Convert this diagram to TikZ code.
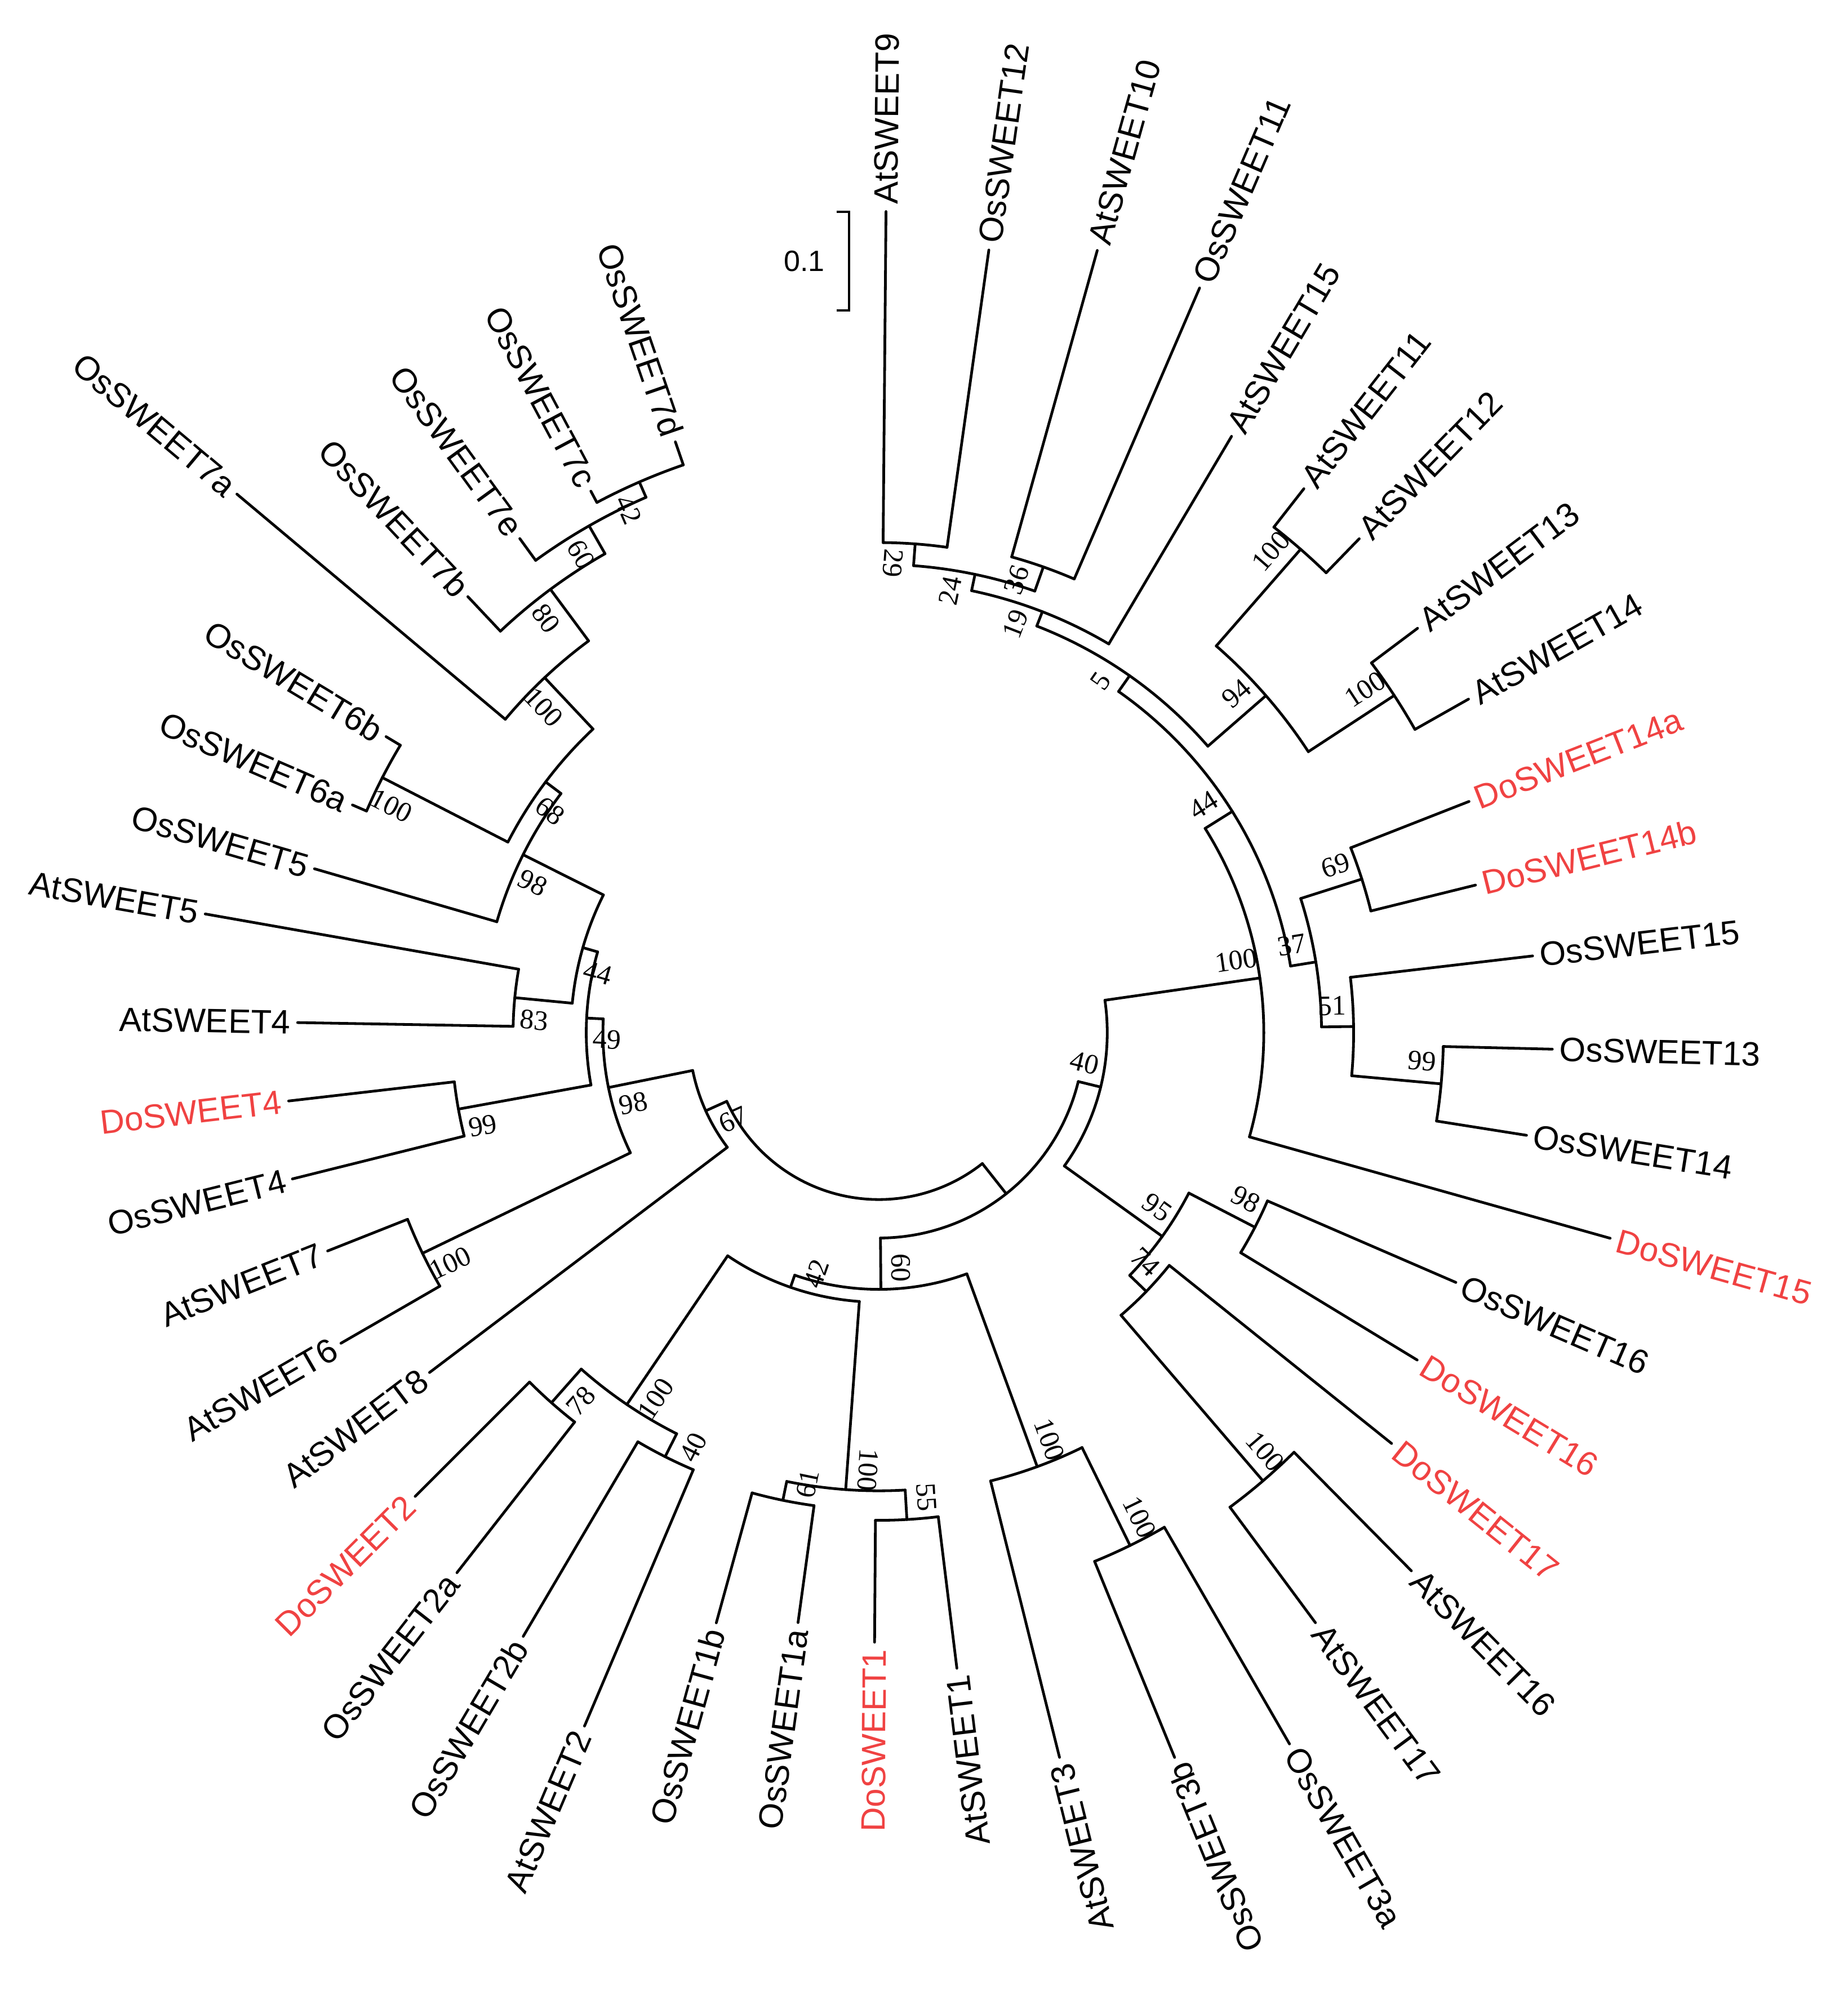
\documentclass[tikz,border=0pt]{standalone}
\usepackage{fontspec}
\usetikzlibrary{calc}
\setmainfont{Liberation Sans}
\newfontfamily\bsfont{Liberation Serif}
\definecolor{dored}{RGB}{240,66,66}
\newcommand\tleaf[5]{%
 \expandafter\xdef\csname ta@#1\endcsname{#2}%
 \coordinate (#1) at ({#2}:{#3*0.02});
 \ifdim #2pt<-65pt \pgfmathsetmacro\tRot{#2+180}\def\tAnc{east}\else \pgfmathsetmacro\tRot{#2}\def\tAnc{west}\fi
 \node[leaflab,text=#5,rotate=\tRot,anchor=\tAnc] (#1-t) at (#1) {#4};
}
\newcommand\tnode[5]{%
 \pgfmathsetmacro\tA{\csname ta@#3\endcsname}%
 \pgfmathsetmacro\tB{\csname ta@#4\endcsname}%
 \pgfmathsetmacro\tM{(\tA+\tB)/2}%
 \pgfmathsetmacro\tR{#2*0.02}%
 \expandafter\xdef\csname ta@#1\endcsname{\tM}%
 \coordinate (#1) at (\tM:\tR);
 \coordinate (#3-b) at (\tA:\tR);
 \coordinate (#4-b) at (\tB:\tR);
 \draw[br] (#3) -- (#3-b);
 \draw[br] (#4) -- (#4-b);
 \draw[br] (#3-b) arc[start angle=\tA, end angle=\tB, radius=\tR cm];
 \def\tLab{#5}%
 \ifx\tLab\empty\else
  \pgfmathsetmacro\tLA{\tM+(17/#2)*57.3}%
  \pgfmathsetmacro\tLR{(#2-16)*0.02}%
  \pgfmathsetmacro\tRot{\tM}%
  \ifdim\tM pt>80pt \pgfmathsetmacro\tRot{\tM+180}\fi
  \ifdim\tM pt<-95pt \pgfmathsetmacro\tRot{\tM+180}\fi
  \node[bslab,rotate=\tRot] (#1-l) at (\tLA:\tLR) {#5};
 \fi
}
\begin{document}
\begin{tikzpicture}[
 br/.style={line width=1.2pt,line cap=round},
 leaflab/.style={font=\fontsize{15}{17}\selectfont,inner sep=3pt},
 bslab/.style={font=\bsfont\fontsize{12.5}{14}\selectfont,inner sep=0pt}]
\useasboundingbox (-13.7,-15.22) rectangle (15.1,16.1);
% leaves
\tleaf{At9}{89.5}{640}{AtSWEET9}{black}
\tleaf{Os12}{82}{616}{OsSWEET12}{black}
\tleaf{At10}{74.4}{633}{AtSWEET10}{black}
\tleaf{Os11}{66.7}{632}{OsSWEET11}{black}
\tleaf{At15}{59.4}{540}{AtSWEET15}{black}
\tleaf{At11}{52}{538}{AtSWEET11}{black}
\tleaf{At12}{45.8}{537}{AtSWEET12}{black}
\tleaf{At13}{36.9}{525}{AtSWEET13}{black}
\tleaf{At14}{29.5}{528}{AtSWEET14}{black}
\tleaf{Do14a}{21.4}{494}{DoSWEET14a}{dored}
\tleaf{Do14b}{13.9}{479}{DoSWEET14b}{dored}
\tleaf{Os15}{6.7}{513}{OsSWEET15}{black}
\tleaf{Os13}{-1.4}{525}{OsSWEET13}{black}
\tleaf{Os14}{-9}{511}{OsSWEET14}{black}
\tleaf{Do15}{-15.7}{592}{DoSWEET15}{dored}
\tleaf{Os16}{-23.4}{490}{OsSWEET16}{black}
\tleaf{Do16}{-31.3}{491}{DoSWEET16}{dored}
\tleaf{Do17}{-38.7}{512}{DoSWEET17}{dored}
\tleaf{At16}{-45.3}{590}{AtSWEET16}{black}
\tleaf{At17}{-53.5}{572}{AtSWEET17}{black}
\tleaf{Os3a}{-60}{640}{OsSWEET3a}{black}
\tleaf{Os3b}{-67.8}{610}{OsSWEET3b}{black}
\tleaf{At3}{-76}{582}{AtSWEET3}{black}
\tleaf{At1}{-83}{499}{AtSWEET1}{black}
\tleaf{Do1}{-90.4}{475}{DoSWEET1}{dored}
\tleaf{Os1a}{-97.8}{464}{OsSWEET1a}{black}
\tleaf{Os1b}{-105.4}{477}{OsSWEET1b}{black}
\tleaf{At2}{-113}{587}{AtSWEET2}{black}
\tleaf{Os2b}{-120.5}{546}{OsSWEET2b}{black}
\tleaf{Os2a}{-128}{534}{OsSWEET2a}{black}
\tleaf{Do2}{-135}{511}{DoSWEET2}{dored}
\tleaf{At8}{-142.9}{439}{AtSWEET8}{black}
\tleaf{At6}{-150}{484}{AtSWEET6}{black}
\tleaf{At7}{-158.4}{462}{AtSWEET7}{black}
\tleaf{Os4}{-166}{471}{OsSWEET4}{black}
\tleaf{Do4}{-173.4}{463}{DoSWEET4}{dored}
\tleaf{At4}{-181}{453}{AtSWEET4}{black}
\tleaf{At5}{-190}{533}{AtSWEET5}{black}
\tleaf{Os5}{-196.2}{458}{OsSWEET5}{black}
\tleaf{Os6a}{-203.4}{447}{OsSWEET6a}{black}
\tleaf{Os6b}{-211}{448}{OsSWEET6b}{black}
\tleaf{Os7a}{-220}{653}{OsSWEET7a}{black}
\tleaf{Os7b}{-226.7}{467}{OsSWEET7b}{black}
\tleaf{Os7e}{-234}{476}{OsSWEET7e}{black}
\tleaf{Os7c}{-242}{478}{OsSWEET7c}{black}
\tleaf{Os7d}{-251}{487}{OsSWEET7d}{black}
% internal nodes
\tnode{nA}{382}{At9}{Os12}{29}
\tnode{nB}{385}{At10}{Os11}{36}
\tnode{nC}{365}{nA}{nB}{24}
\tnode{nD}{352}{nC}{At15}{19}
\tnode{nE}{500}{At11}{At12}{100}
\tnode{nF}{480}{At13}{At14}{100}
\tnode{nG}{400}{nE}{nF}{94}
\tnode{nH}{340}{nD}{nG}{5}
\tnode{nI}{395}{Do14a}{Do14b}{69}
\tnode{nJ}{440}{Os13}{Os14}{99}
\tnode{nK}{370}{Os15}{nJ}{51}
\tnode{nL}{345}{nI}{nK}{37}
\tnode{nM}{325}{nH}{nL}{44}
\tnode{nN}{300}{nM}{Do15}{100}
\tnode{nO}{330}{Os16}{Do16}{98}
\tnode{nP}{460}{At16}{At17}{100}
\tnode{nQ}{290}{Do17}{nP}{74}
\tnode{nR}{272}{nO}{nQ}{95}
\tnode{nS}{178}{nN}{nR}{40}
\tnode{nT}{445}{Os3a}{Os3b}{100}
\tnode{nU}{360}{nT}{At3}{100}
\tnode{nV}{380}{At1}{Do1}{55}
\tnode{nW}{372}{Os1a}{Os1b}{61}
\tnode{nX}{357}{nV}{nW}{100}
\tnode{nY}{370}{At2}{Os2b}{40}
\tnode{nZ}{385}{Os2a}{Do2}{78}
\tnode{mA}{350}{nY}{nZ}{100}
\tnode{mB}{210}{nX}{mA}{42}
\tnode{mC}{200}{nU}{mB}{60}
\tnode{mD}{160}{nS}{mC}{}
\tnode{mE}{468}{Os7c}{Os7d}{42}
\tnode{mF}{455}{Os7e}{mE}{60}
\tnode{mG}{430}{Os7b}{mF}{80}
\tnode{mH}{380}{Os7a}{mG}{100}
\tnode{mI}{435}{Os6a}{Os6b}{100}
\tnode{mJ}{325}{mI}{mH}{68}
\tnode{mK}{310}{Os5}{mJ}{98}
\tnode{mL}{285}{At4}{At5}{83}
\tnode{mM}{240}{mL}{mK}{44}
\tnode{mN}{333}{Os4}{Do4}{99}
\tnode{mO}{228}{mN}{mM}{49}
\tnode{mP}{395}{At6}{At7}{100}
\tnode{mQ}{215}{mP}{mO}{98}
\tnode{mR}{148}{At8}{mQ}{67}
\tnode{root}{130}{mR}{mD}{}
% scale bar
\coordinate (sb1) at (-0.46,12.8);
\coordinate (sb2) at (-0.46,11.26);
\draw[line width=1pt] ($(sb1)+(-0.2,0)$) -- (sb1) -- (sb2) -- ($(sb2)+(-0.2,0)$);
\node[font=\fontsize{13}{15}\selectfont,anchor=east] (sbl) at (-0.72,12.03) {0.1};
\end{tikzpicture}
\end{document}
